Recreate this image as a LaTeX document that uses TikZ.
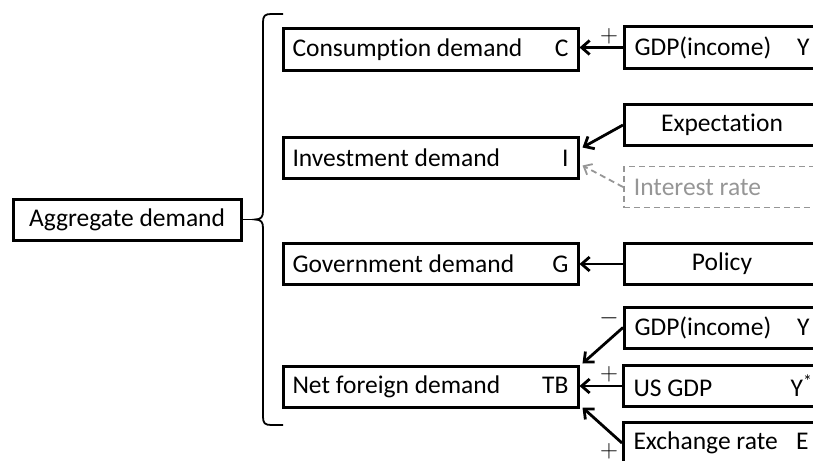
\documentclass[tikz,border=0pt]{standalone}
\usepackage{fontspec}
\setmainfont{Carlito}[Ligatures=NoCommon]
\usetikzlibrary{arrows.meta,calc}
% left box text: label on the left, symbol on the right
\newcommand{\pairtext}[2]{\hbox to 276pt{#1\hfill #2}}
% right box text (the box runs on past the right edge)
\newcommand{\ltext}[2]{\hbox to 220pt{#1\hfill #2\kern 45pt}}
\newcommand{\mtext}[1]{\hbox to 220pt{\hfill #1\hfill\kern 45pt}}
\definecolor{softgray}{RGB}{150,150,150}
\begin{document}
\begin{tikzpicture}[x=1pt,y=-1pt,
  box/.style={draw, line width=3pt, rectangle, inner sep=0pt, minimum height=41pt,
    font=\fontsize{25.5}{28}\selectfont},
  lbox/.style={box, minimum width=295pt},
  rbox/.style={box, minimum width=240pt, inner xsep=10pt, anchor=west},
  dbox/.style={rbox, draw=softgray, text=softgray, line width=1.8pt, dash pattern=on 6pt off 4pt},
  link/.style={line width=2.8pt, -{Straight Barb[length=8pt,width=14pt,line width=2.8pt]}},
  dlink/.style={draw=softgray, line width=1.8pt, dash pattern=on 6pt off 4pt,
    -{Straight Barb[length=7pt,width=12pt,line width=1.8pt]}},
  sign/.style={inner sep=0pt, font=\fontsize{29}{29}\selectfont}
]
\useasboundingbox (0,0) rectangle (813,460);
\clip (0,0) rectangle (813,460);

% aggregate demand and its brace
\node[box, minimum width=228pt] (agg) at (127,219.5) {Aggregate demand};
\coordinate (tip) at (255,219.5);
\draw[line width=1.8pt] (283,14) -- (271,14) .. controls (265,14) and (263,16) .. (263,22)
  -- (263,211) .. controls (263,217) and (261,219.5) .. (tip)
  .. controls (261,219.5) and (263,222) .. (263,228)
  -- (263,417) .. controls (263,423) and (265,425) .. (271,425) -- (283,425);
\draw[line width=1.8pt] (agg.east) -- (tip);

% components of demand
\node[lbox] (cons) at (430.5,49.5)  {\pairtext{Consumption demand}{C}};
\node[lbox] (inv)  at (430.5,157.5) {\pairtext{Investment demand}{I}};
\node[lbox] (gov)  at (430.5,263.5) {\pairtext{Government demand}{G}};
\node[lbox] (tb)   at (430.5,386.5) {\pairtext{Net foreign demand}{TB}};

% determinants
\node[rbox] (gdpa)  at (623,47.5) {\ltext{GDP(income)}{Y}};
\node[rbox] (expc)  at (623,125)  {\mtext{Expectation}};
\node[dbox] (rate)  at (623,187)  {\ltext{Interest rate}{}};
\node[rbox] (pol)   at (623,264)  {\mtext{Policy}};
\node[rbox] (gdpb)  at (623,327.5){\ltext{GDP(income)}{Y}};
\node[rbox] (usgdp) at (622,386)  {\ltext{US GDP}{Y\textsuperscript{*}\kern-4pt}};
\node[rbox] (exch)  at (622,443)  {\ltext{Exchange rate}{E}};

% effects
\draw[link] (gdpa.west) -- (cons.east |- gdpa.west);
\draw[link] (expc.west) -- ($(inv.east)+(3,-10)$);
\draw[dlink] (rate.west) -- ($(inv.east)+(3,8)$);
\draw[link] (pol.west) -- (gov.east |- pol.west);
\draw[link] (gdpb.west) -- ($(tb.north east)+(3,-1)$);
\draw[link] (usgdp.west) -- (tb.east |- usgdp.west);
\draw[link] (exch.west) -- ($(tb.south east)+(3,-1)$);

% signs of the effects
\node[sign] (s1) at (609,36)  {$+$};
\node[sign] (s2) at (609,318) {$-$};
\node[sign] (s3) at (609,374) {$+$};
\node[sign] (s4) at (609,451) {$+$};
\end{tikzpicture}
\end{document}
